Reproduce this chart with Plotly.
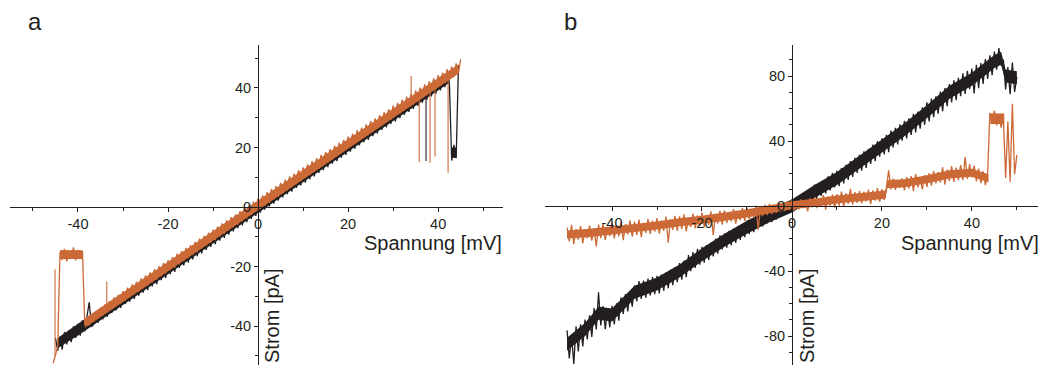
import plotly.graph_objects as go

# ---------------- data ----------------
# Panel a: voltage sweep grid [mV]
VA = [-45.5,-45,-44.5,-44,-43.5,-43,-42.5,-42,-41.5,-41,
      -40.5,-40,-39.5,-39,-38.5,-38,-37.5,-37,-36.5,-36,
      -35.5,-35,-34.5,-34,-33.5,-33,-32.5,-32,-31.5,-31,
      -30.5,-30,-29.5,-29,-28.5,-28,-27.5,-27,-26.5,-26,
      -25.5,-25,-24.5,-24,-23.5,-23,-22.5,-22,-21.5,-21,
      -20.5,-20,-19.5,-19,-18.5,-18,-17.5,-17,-16.5,-16,
      -15.5,-15,-14.5,-14,-13.5,-13,-12.5,-12,-11.5,-11,
      -10.5,-10,-9.5,-9,-8.5,-8,-7.5,-7,-6.5,-6,
      -5.5,-5,-4.5,-4,-3.5,-3,-2.5,-2,-1.5,-1,
      -0.5,0,0.5,1,1.5,2,2.5,3,3.5,4,
      4.5,5,5.5,6,6.5,7,7.5,8,8.5,9,
      9.5,10,10.5,11,11.5,12,12.5,13,13.5,14,
      14.5,15,15.5,16,16.5,17,17.5,18,18.5,19,
      19.5,20,20.5,21,21.5,22,22.5,23,23.5,24,
      24.5,25,25.5,26,26.5,27,27.5,28,28.5,29,
      29.5,30,30.5,31,31.5,32,32.5,33,33.5,34,
      34.5,35,35.5,36,36.5,37,37.5,38,38.5,39,
      39.5,40,40.5,41,41.5,42,42.5,43,43.5,44,
      44.5,45]

# Panel a: current [pA], black trace
IA_BLACK = [None,-44.1,-48.3,-43.6,-47.9,-42.0,-46.2,-41.5,-45.4,-40.1,
            -44.0,-39.3,-43.2,-38.1,-41.8,-36.8,-32.0,-40.3,-39.4,-35.2,
            -38.9,-34.0,-37.8,-33.1,-36.9,-31.8,-35.6,-30.9,-34.7,-29.6,
            -33.9,-28.7,-32.6,-27.5,-31.8,-26.6,-30.9,-25.4,-29.8,-24.6,
            -28.8,-23.5,-27.9,-22.4,-26.7,-21.2,-25.9,-20.5,-24.6,-19.2,
            -23.8,-18.4,-22.6,-17.3,-21.8,-16.2,-20.5,-15.3,-19.6,-14.1,
            -18.7,-13.2,-17.6,-12.1,-16.5,-11.0,-15.6,-10.2,-14.4,-9.0,
            -13.4,-8.1,-12.5,-7.0,-11.3,-5.9,-10.4,-4.9,-9.3,-3.8,
            -8.2,-2.9,-7.1,-1.8,-6.2,-0.7,-5.1,0.3,-4.0,1.3,
            -3.0,2.4,-1.9,3.5,-0.9,4.6,0.2,5.7,1.1,6.6,
            2.1,7.8,3.2,8.6,4.3,9.9,5.2,10.7,6.4,11.9,
            7.3,12.8,8.2,13.9,9.4,15.0,10.3,15.8,11.5,17.0,
            12.4,18.1,13.4,19.0,14.6,20.1,15.4,21.0,16.6,22.2,
            17.5,23.2,18.6,24.1,19.6,25.3,20.7,26.1,21.8,27.2,
            22.6,28.4,23.8,29.3,24.7,30.4,25.9,31.2,26.8,32.5,
            27.9,33.5,28.8,34.6,29.9,35.6,31.0,36.4,32.0,37.6,
            33.0,38.6,34.0,39.7,35.1,40.6,36.1,41.5,37.2,42.8,
            38.1,43.8,39.2,44.7,40.3,45.9,41.2,15.6,20.9,16.4,
            47.6,None]

# Panel a: current [pA], orange trace
IA_ORANGE = [-52.5,-49.8,-46.9,-15.2,-17.8,-14.1,-18.3,-15.0,-17.2,-13.6,
             -17.9,-14.4,-16.8,-14.9,-39.5,-37.0,-39.8,-36.2,-38.6,-35.1,
             -37.4,-33.8,-36.5,-32.7,-35.4,-31.6,-34.5,-30.4,-33.3,-29.5,
             -32.4,-28.3,-31.5,-27.1,-30.3,-26.0,-29.4,-25.2,-28.4,-24.0,
             -27.3,-23.0,-26.4,-22.0,-25.3,-20.9,-24.4,-19.9,-23.3,-18.8,
             -22.3,-17.9,-21.2,-16.8,-20.4,-15.7,-19.2,-14.8,-18.2,-13.7,
             -17.2,-12.8,-16.1,-11.7,-15.2,-10.6,-14.0,-9.7,-13.0,-8.6,
             -12.0,-7.6,-11.1,-6.6,-9.9,-5.5,-9.0,-4.5,-7.9,-3.4,
             -6.8,-2.5,-5.9,-1.4,-4.7,-0.3,-3.8,0.7,-2.7,1.8,
             -1.6,2.9,-0.6,3.9,0.5,5.0,1.4,6.1,2.6,7.0,
             3.5,8.1,4.6,9.2,5.6,10.3,6.7,11.2,7.7,12.4,
             8.7,13.3,9.8,14.3,10.8,15.4,11.8,16.4,12.9,17.5,
             13.9,18.5,15.0,19.5,16.0,20.6,17.0,21.6,18.1,22.6,
             19.1,23.7,20.2,24.7,21.1,25.8,22.2,26.7,23.3,27.8,
             24.2,28.9,25.3,29.8,26.3,30.9,27.3,31.9,28.4,32.9,
             29.4,34.1,30.5,35.0,31.4,36.1,32.5,37.1,33.6,38.0,
             34.5,39.2,35.6,40.1,36.6,41.2,37.6,42.2,38.7,43.2,
             39.6,44.3,40.7,45.2,41.7,46.3,42.8,47.2,43.7,48.3,
             45.0,49.6]

# Panel a: dense-noise band envelopes [mV], [pA]
BAND_A_BLACK_V = [-44.5,-40,-35,-30,-25,-20,-15,-10,-5,0,5,10,15,20,25,30,35,40,42.5]
BAND_A_BLACK_LO = [-47.5,-43.2,-38.1,-32.9,-27.8,-22.6,-17.5,-12.3,-7.2,-2.0,3.2,8.3,13.5,18.6,23.8,28.9,34.1,39.2,41.8]
BAND_A_BLACK_HI = [-44.0,-39.2,-34.1,-28.9,-23.8,-18.6,-13.5,-8.3,-3.2,2.0,7.2,12.3,17.5,22.6,27.8,32.9,38.1,43.2,45.8]
BLOCK_A_BLACK_V = [42.9, 44.0]
BLOCK_A_BLACK_LO = [16.5, 16.5]
BLOCK_A_BLACK_HI = [20.0, 20.0]
BAND_A_ORANGE_V = [-38.5,-35,-30,-25,-20,-15,-10,-5,0,5,10,15,20,25,30,35,40,44.5]
BAND_A_ORANGE_LO = [-40.6,-37.1,-31.9,-26.8,-21.6,-16.5,-11.3,-6.2,-1.0,4.1,9.3,14.4,19.6,24.7,29.9,35.0,40.2,44.8]
BAND_A_ORANGE_HI = [-37.4,-33.9,-28.7,-23.6,-18.4,-13.3,-8.1,-3.0,2.2,7.3,12.5,17.6,22.8,27.9,33.1,38.2,43.4,48.0]
BLOCK_A_ORANGE_V = [-44.0, -39.0]
BLOCK_A_ORANGE_LO = [-17.5, -17.5]
BLOCK_A_ORANGE_HI = [-14.5, -14.5]

# Panel a: single-channel spikes (voltage, start current, end current)
SPIKE_A_ORANGE_V = [-45.1, -33.6, 34.0, 35.8, 38.2, 39.3, 42.2]
SPIKE_A_ORANGE_FROM = [-50.0, -34.0, 34.0, 37.0, 39.0, 40.5, 43.5]
SPIKE_A_ORANGE_TO = [-21.0, -25.0, 44.0, 15.2, 14.9, 17.0, 11.5]
SPIKE_A_BLACK_V = [37.3]
SPIKE_A_BLACK_FROM = [38.5]
SPIKE_A_BLACK_TO = [15.5]

# Panel b: voltage sweep grid [mV]
VB = [-50,-49.5,-49,-48.5,-48,-47.5,-47,-46.5,-46,-45.5,
      -45,-44.5,-44,-43.5,-43,-42.5,-42,-41.5,-41,-40.5,
      -40,-39.5,-39,-38.5,-38,-37.5,-37,-36.5,-36,-35.5,
      -35,-34.5,-34,-33.5,-33,-32.5,-32,-31.5,-31,-30.5,
      -30,-29.5,-29,-28.5,-28,-27.5,-27,-26.5,-26,-25.5,
      -25,-24.5,-24,-23.5,-23,-22.5,-22,-21.5,-21,-20.5,
      -20,-19.5,-19,-18.5,-18,-17.5,-17,-16.5,-16,-15.5,
      -15,-14.5,-14,-13.5,-13,-12.5,-12,-11.5,-11,-10.5,
      -10,-9.5,-9,-8.5,-8,-7.5,-7,-6.5,-6,-5.5,
      -5,-4.5,-4,-3.5,-3,-2.5,-2,-1.5,-1,-0.5,
      0,0.5,1,1.5,2,2.5,3,3.5,4,4.5,
      5,5.5,6,6.5,7,7.5,8,8.5,9,9.5,
      10,10.5,11,11.5,12,12.5,13,13.5,14,14.5,
      15,15.5,16,16.5,17,17.5,18,18.5,19,19.5,
      20,20.5,21,21.5,22,22.5,23,23.5,24,24.5,
      25,25.5,26,26.5,27,27.5,28,28.5,29,29.5,
      30,30.5,31,31.5,32,32.5,33,33.5,34,34.5,
      35,35.5,36,36.5,37,37.5,38,38.5,39,39.5,
      40,40.5,41,41.5,42,42.5,43,43.5,44,44.5,
      45,45.5,46,46.5,47,47.5,48,48.5,49,49.5,
      50]

IB_BLACK = [-76.5,-93.8,-79.2,-97.1,-74.0,-89.5,-72.8,-86.4,-69.9,-82.0,
            -67.3,-80.5,-62.8,-76.0,-53.0,-73.4,-61.5,-75.8,-63.2,-74.6,
            -61.4,-72.9,-59.8,-70.6,-56.1,-66.3,-54.2,-64.8,-52.6,-61.9,
            -48.9,-58.7,-46.2,-57.1,-45.8,-56.3,-44.6,-55.0,-43.7,-54.2,
            -43.0,-53.8,-42.1,-52.0,-40.9,-50.6,-39.2,-48.7,-37.5,-46.9,
            -35.1,-45.3,-33.6,-43.8,-30.2,-40.1,-28.4,-38.0,-26.3,-36.1,
            -25.1,-34.8,-24.0,-33.2,-22.4,-31.0,-20.1,-29.3,-18.0,-26.7,
            -17.0,-25.6,-15.3,-24.1,-13.9,-22.7,-12.4,-20.8,-11.2,-19.1,
            -9.0,-17.3,-8.1,-16.0,-6.2,-14.1,-5.0,-12.5,-3.4,-10.6,
            -2.3,-9.9,-1.0,-8.4,0.6,-6.7,1.5,-5.2,2.8,-4.1,
            4.1,-3.2,5.6,-1.5,7.3,0.4,8.9,1.8,10.6,3.7,
            13.2,4.6,14.1,6.2,16.0,7.8,18.3,9.6,20.4,11.5,
            21.6,12.2,23.4,13.9,25.3,16.1,27.6,18.0,29.7,20.4,
            31.5,21.8,33.6,23.5,35.2,25.9,37.8,27.6,39.9,30.4,
            41.6,31.8,43.9,33.2,46.5,36.0,48.1,37.9,50.3,40.2,
            52.4,41.6,54.0,43.8,56.7,45.3,58.1,47.6,60.8,50.0,
            63.9,52.1,66.2,54.7,67.5,56.9,70.4,58.3,72.6,61.5,
            75.1,63.8,77.4,65.2,78.9,67.6,81.7,69.0,83.2,71.9,
            84.6,69.3,86.9,72.5,88.0,75.1,90.4,78.2,92.7,80.6,
            95.0,83.9,97.2,86.4,90.1,71.8,85.6,68.9,88.3,70.2,
            79.5]

IB_ORANGE = [-13.2,-21.8,-11.5,-23.4,-14.0,-20.6,-12.3,-22.9,-15.1,-19.8,
             -12.0,-21.3,-13.6,-24.8,-11.4,-19.7,-10.9,-20.8,-13.3,-18.5,
             -10.2,-19.9,-11.8,-18.6,-9.5,-21.0,-11.1,-17.4,-8.8,-18.9,
             -9.6,-17.8,-8.3,-19.2,-10.4,-16.5,-7.9,-17.1,-9.0,-15.8,
             -7.4,-16.9,-8.8,-15.2,-6.5,-22.6,-8.1,-14.7,-6.0,-15.3,
             -6.3,-14.0,-5.1,-15.6,-7.2,-12.8,-4.6,-13.7,-5.8,-12.2,
             -4.0,-13.1,-5.4,-11.6,-3.2,-17.9,-4.8,-10.7,-2.9,-11.5,
             -2.6,-10.3,-3.9,-9.4,-1.8,-10.9,-3.0,-8.6,-1.3,-9.1,
             -0.9,-8.2,-2.1,-7.0,0.2,-14.6,-1.4,-6.1,0.8,-5.6,
             1.4,-5.0,0.3,-4.2,2.2,-3.1,1.0,-2.8,2.9,-1.6,
             3.6,-2.9,2.4,-2.0,4.1,-1.2,3.0,-3.3,4.8,-0.8,
             5.2,-1.3,4.6,-0.4,6.8,-2.2,5.9,0.3,7.1,-0.9,
             7.4,0.2,8.9,-0.5,7.8,1.4,10.6,0.9,8.5,2.0,
             9.3,1.6,8.8,2.9,10.1,1.2,9.6,3.4,11.0,2.6,
             10.4,3.8,11.2,22.0,10.3,16.8,9.9,15.7,11.2,17.0,
             9.6,17.8,10.9,18.4,9.2,19.6,11.5,17.1,10.3,19.0,
             11.8,20.3,12.6,21.5,13.9,20.8,14.5,23.9,13.2,22.4,
             15.4,24.6,14.8,23.7,16.1,25.2,15.9,30.1,16.7,25.8,
             17.6,24.9,15.2,23.1,14.1,21.4,12.8,20.2,57.3,51.6,
             58.8,49.6,56.2,48.3,54.9,17.2,52.0,14.8,63.0,19.6,
             31.5]

# Panel b: dense-noise band envelopes
BAND_B_BLACK_V = [-50,-46,-43,-40,-35,-30,-25,-20,-15,-10,-5,0,5,10,15,20,25,30,35,40,45,46.5,47.5,50]
BAND_B_BLACK_LO = [-89,-80,-70,-71,-57,-52,-44,-34,-25,-17,-10,-4,5,13,23,33,43,54,66,74,85,87,76,75]
BAND_B_BLACK_HI = [-81,-72,-62,-63,-49,-44,-36,-26,-17,-9,-2,4,13,21,31,41,51,62,74,82,93,95,84,83]
BAND_B_ORANGE_V = [-50,-45,-40,-35,-30,-25,-20,-15,-10,-5,0,5,10,15,20.8,21.2,25,30,35,40,43.7]
BAND_B_ORANGE_LO = [-20,-19,-17.5,-16,-14.5,-12.5,-11,-9,-7,-4.5,-2,-0.5,1.5,3,4.5,11,11.5,14,17,18,14.5]
BAND_B_ORANGE_HI = [-15,-14,-12.5,-11,-9.5,-7.5,-6,-4,-2,0.5,3,4.5,6.5,8,9.5,16,16.5,19,22,23,19.5]
BLOCK_B_ORANGE_V = [44.1, 47.2]
BLOCK_B_ORANGE_LO = [50.5, 50.5]
BLOCK_B_ORANGE_HI = [57.0, 57.0]

# Tick values and labels (hyphen minus as in the original figure)
X_TICKS = [-40, -20, 0, 20, 40]
X_TICK_LABELS = ["-40", "-20", "0", "20", "40"]
YA_TICKS = [-40, -20, 0, 20, 40]
YA_TICK_LABELS = ["-40", "-20", "0", "20", "40"]
YB_TICKS = [-80, -40, 0, 40, 80]
YB_TICK_LABELS = ["-80", "-40", "0", "40", "80"]

BLACK = "#231f20"
ORANGE = "#cc6a37"
TEXT = "#231f20"
FONT = "Liberation Sans, Arial, sans-serif"
LW = 1.3

# ---------------- layout geometry ----------------
W, H = 1042, 365
Y_DOM = [0.0, 320 / 365]
XA_DOM = [10 / W, 503 / W]
XB_DOM = [545 / W, 1038 / W]
XA_RANGE = [-55.1, 54.4]
XB_RANGE = [-54.9, 54.7]
YA_RANGE = [-53.1, 54.45]
YB_RANGE = [-97.8, 99.1]


def zero_pos(dom, rng):
    return dom[0] + (0 - rng[0]) / (rng[1] - rng[0]) * (dom[1] - dom[0])


def spikes(vs, a, b):
    xs, ys = [], []
    for v, y0, y1 in zip(vs, a, b):
        xs += [v, v, None]
        ys += [y0, y1, None]
    return xs, ys


fig = go.Figure()


def band(v, lo, hi, color, xa, ya):
    fig.add_trace(go.Scatter(x=list(v) + list(v)[::-1], y=list(lo) + list(hi)[::-1],
                             mode="lines", fill="toself", fillcolor=color,
                             line=dict(width=0, color=color), xaxis=xa, yaxis=ya,
                             hoverinfo="skip"))


def line(v, i, color, xa, ya, width=LW):
    fig.add_trace(go.Scatter(x=v, y=i, mode="lines", line=dict(color=color, width=width),
                             xaxis=xa, yaxis=ya, connectgaps=False))


# panel a
band(BAND_A_BLACK_V, BAND_A_BLACK_LO, BAND_A_BLACK_HI, BLACK, "x", "y")
band(BLOCK_A_BLACK_V, BLOCK_A_BLACK_LO, BLOCK_A_BLACK_HI, BLACK, "x", "y")
line(VA, IA_BLACK, BLACK, "x", "y")
sx, sy = spikes(SPIKE_A_BLACK_V, SPIKE_A_BLACK_FROM, SPIKE_A_BLACK_TO)
line(sx, sy, BLACK, "x", "y", 1.1)
band(BAND_A_ORANGE_V, BAND_A_ORANGE_LO, BAND_A_ORANGE_HI, ORANGE, "x", "y")
band(BLOCK_A_ORANGE_V, BLOCK_A_ORANGE_LO, BLOCK_A_ORANGE_HI, ORANGE, "x", "y")
line(VA, IA_ORANGE, ORANGE, "x", "y")
sx, sy = spikes(SPIKE_A_ORANGE_V, SPIKE_A_ORANGE_FROM, SPIKE_A_ORANGE_TO)
line(sx, sy, ORANGE, "x", "y", 1.1)

# panel b
band(BAND_B_BLACK_V, BAND_B_BLACK_LO, BAND_B_BLACK_HI, BLACK, "x2", "y2")
line(VB, IB_BLACK, BLACK, "x2", "y2")
band(BAND_B_ORANGE_V, BAND_B_ORANGE_LO, BAND_B_ORANGE_HI, ORANGE, "x2", "y2")
band(BLOCK_B_ORANGE_V, BLOCK_B_ORANGE_LO, BLOCK_B_ORANGE_HI, ORANGE, "x2", "y2")
line(VB, IB_ORANGE, ORANGE, "x2", "y2")

tickfont = dict(family=FONT, size=14.5, color=TEXT)


def xax(dom, rng, ydom, yrng):
    return dict(domain=dom, range=rng, anchor="free", position=zero_pos(ydom, yrng),
                showline=True, linecolor=TEXT, linewidth=1, ticks="outside", ticklen=4,
                tickwidth=1, tickcolor=TEXT, tickmode="array", tickvals=X_TICKS,
                ticktext=X_TICK_LABELS, showgrid=False,
                zeroline=False, tickfont=tickfont, automargin=False, fixedrange=True,
                minor=dict(dtick=10, tick0=0, ticks="outside", ticklen=3, tickcolor=TEXT,
                           tickwidth=1, showgrid=False))


def yax(dom, rng, xdom, xrng, tv, tt):
    return dict(domain=dom, range=rng, anchor="free", position=zero_pos(xdom, xrng),
                side="left", showline=True, linecolor=TEXT, linewidth=1, ticks="outside",
                ticklen=4, tickwidth=1, tickcolor=TEXT, tickmode="array", tickvals=tv,
                ticktext=tt, showgrid=False, zeroline=False, tickfont=tickfont,
                automargin=False, fixedrange=True,
                minor=dict(dtick=10, tick0=0, ticks="outside", ticklen=3, tickcolor=TEXT,
                           tickwidth=1, showgrid=False))


fig.update_layout(
    width=W, height=H, margin=dict(l=0, r=0, t=0, b=0),
    paper_bgcolor="white", plot_bgcolor="white", showlegend=False,
    xaxis=xax(XA_DOM, XA_RANGE, Y_DOM, YA_RANGE),
    yaxis=yax(Y_DOM, YA_RANGE, XA_DOM, XA_RANGE, YA_TICKS, YA_TICK_LABELS),
    xaxis2=xax(XB_DOM, XB_RANGE, Y_DOM, YB_RANGE),
    yaxis2=yax(Y_DOM, YB_RANGE, XB_DOM, XB_RANGE, YB_TICKS, YB_TICK_LABELS),
)

ann_font = dict(family=FONT, size=20, color=TEXT)
annotations = [
    dict(text="a", x=35 / W, y=1 - 22 / H, xanchor="center", yanchor="middle",
         font=dict(family=FONT, size=24, color=TEXT)),
    dict(text="b", x=570 / W, y=1 - 22 / H, xanchor="center", yanchor="middle",
         font=dict(family=FONT, size=24, color=TEXT)),
    dict(text="Spannung [mV]", x=504 / W, y=1 - 243 / H, xanchor="right", yanchor="middle",
         font=ann_font),
    dict(text="Spannung [mV]", x=1041 / W, y=1 - 243 / H, xanchor="right", yanchor="middle",
         font=ann_font),
    dict(text="Strom [pA]", x=272 / W, y=0, xanchor="center", yanchor="bottom",
         textangle=-90, font=ann_font),
    dict(text="Strom [pA]", x=807 / W, y=0, xanchor="center", yanchor="bottom",
         textangle=-90, font=ann_font),
]
for a in annotations:
    a.update(xref="paper", yref="paper", showarrow=False)
fig.update_layout(annotations=annotations)

fig.write_html("out.html")
